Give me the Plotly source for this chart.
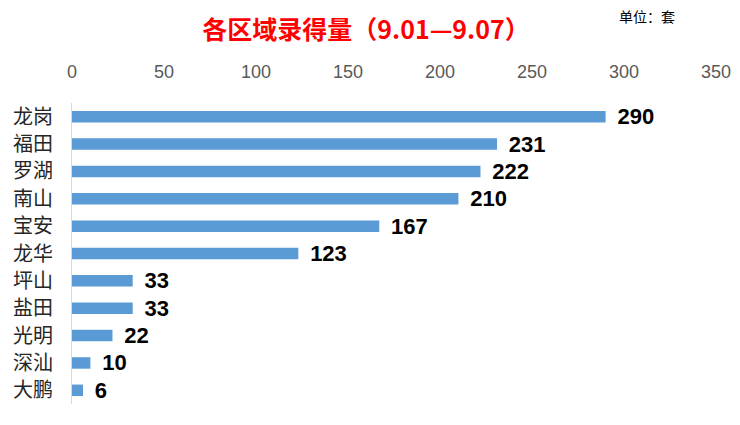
import plotly.graph_objects as go

districts = ["龙岗", "福田", "罗湖", "南山", "宝安", "龙华", "坪山", "盐田", "光明", "深汕", "大鹏"]
values = [290, 231, 222, 210, 167, 123, 33, 33, 22, 10, 6]
tick_vals = [0, 50, 100, 150, 200, 250, 300, 350]

fig = go.Figure(go.Bar(
    x=values, y=districts, orientation="h",
    marker=dict(color="#5B9BD5", line=dict(width=0)),
    text=[str(v) for v in values], textposition="outside",
    textfont=dict(family="Liberation Sans, Arial", size=22, color="#000000"),
    texttemplate="\u2009\u2009<b>%{text}</b>", constraintext="none",
    cliponaxis=False, width=0.42, hoverinfo="skip",
))

fig.update_layout(
    width=740, height=425,
    margin=dict(l=72, r=24, t=103, b=21, autoexpand=False),
    paper_bgcolor="white", plot_bgcolor="white",
    showlegend=False,
    title=dict(text="<b>各区域录得量（9.01—9.07）</b>", x=366 / 740, xanchor="center", y=1 - 30 / 425, yanchor="middle",
               font=dict(family="Noto Sans CJK SC", size=25, color="#FF0000")),
    annotations=[dict(text="单位：套", x=(647 - 72) / 644, y=1 + (103 - 16) / 301, xref="paper", yref="paper",
                      showarrow=False, xanchor="center", yanchor="middle",
                      font=dict(family="Noto Sans CJK SC", size=14, color="#000000"))],
)

fig.update_xaxes(side="top", range=[0, 350], tickvals=tick_vals, showgrid=False, zeroline=False, automargin=False,
                 showline=False, ticks="", ticklabelstandoff=20,
                 tickfont=dict(family="Liberation Sans", size=18, color="#595959"))
fig.update_yaxes(autorange="reversed", showgrid=False, showline=True, linecolor="#D9D9D9", linewidth=1,
                 ticks="", ticklabelstandoff=14, automargin=False,
                 tickfont=dict(family="Noto Sans CJK SC", size=20, color="#262626"))

fig.write_html("out.html", config={"displayModeBar": False},
               post_script="document.body.style.margin='0';window.dispatchEvent(new Event('resize'));")
